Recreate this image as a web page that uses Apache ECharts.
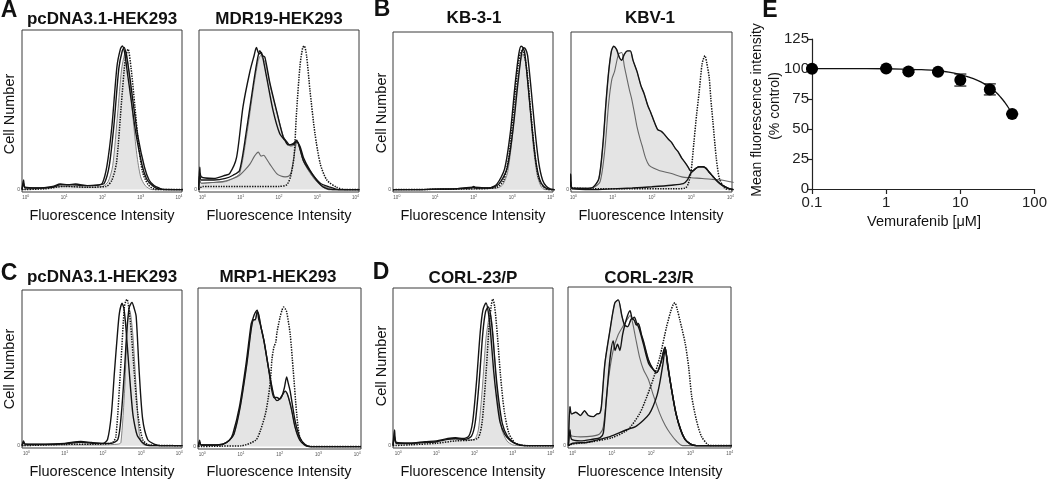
<!DOCTYPE html>
<html><head><meta charset="utf-8">
<script src="https://cdn.jsdelivr.net/npm/echarts@6/dist/echarts.min.js"></script>
<style>html,body{margin:0;padding:0;background:#fff}#c{width:1050px;height:480px}</style>
</head><body><div id="c"></div>
<script>
// ---------- histogram data: [log10 intensity, cell count (% of max)] ----------
const decadeTicks = [0, 1, 2, 3, 4];
// A: pcDNA3.1-HEK293
const a1Black1 = [[-0.1,0],[-0.06,6],[-0.02,1.5],[0.3,1],[0.7,2],[0.9,3.5],[1.1,3],[1.3,3.5],[1.6,2.5],[1.9,3],[2.0,4],[2.12,15],[2.25,40],[2.38,77],[2.47,88],[2.52,90],[2.58,86],[2.66,72],[2.73,60],[2.87,36],[3.04,15],[3.15,7],[3.26,3.5],[3.4,1],[3.52,0.3],[4.1,0]];
const a1Black2 = [[-0.1,0],[-0.06,4],[-0.02,1],[0.3,1],[0.7,1.5],[0.9,3],[1.2,3],[1.6,2.5],[1.9,2.8],[2.05,4],[2.18,15],[2.3,40],[2.43,76],[2.52,87],[2.57,89],[2.63,84],[2.72,70],[2.8,55],[2.93,33],[3.1,14],[3.22,6],[3.35,2.5],[3.5,0.8],[3.6,0],[4.1,0]];
const a1Fill = [[-0.1,0],[0.3,0.5],[1.0,2],[1.6,1.5],[2.0,2],[2.15,5],[2.27,15],[2.4,48],[2.5,75],[2.58,85],[2.62,86],[2.7,72],[2.8,45],[2.9,22],[3.0,8],[3.12,2.5],[3.3,0],[4.1,0]];
const a1Dot = [[-0.1,0],[0.5,0.5],[1.0,2],[1.6,1.5],[2.1,2],[2.25,6],[2.37,17],[2.5,55],[2.6,82],[2.67,88],[2.75,76],[2.85,52],[2.95,27],[3.05,11],[3.2,3],[3.4,0],[4.1,0]];
// A: MDR19-HEK293
const a2BlackL = [[-0.1,0],[-0.07,14],[-0.03,8],[0.3,7],[0.6,9],[0.71,10],[0.89,20],[1.06,52],[1.24,74],[1.35,84],[1.41,89],[1.48,85],[1.54,86],[1.6,80],[1.68,70],[1.85,49],[2.02,35],[2.15,31],[2.24,28],[2.35,28],[2.46,30],[2.55,27],[2.64,20],[2.81,12],[2.99,5.6],[3.16,1.5],[3.4,0],[4.1,0]];
const a2BlackR = [[-0.1,0],[-0.07,10],[-0.03,6],[0.3,6],[0.6,7],[0.8,9],[0.97,12],[1.15,37],[1.33,66],[1.44,82],[1.5,87],[1.56,84],[1.63,83],[1.76,67],[1.94,49],[2.11,33],[2.2,30],[2.28,28],[2.38,29],[2.46,31],[2.53,27],[2.64,18],[2.86,10],[3.08,4],[3.34,1.5],[3.55,0],[4.1,0]];
const a2Fill = [[-0.1,0],[-0.07,6],[-0.03,4],[0.3,4.5],[0.6,5],[0.8,7],[0.97,10],[1.15,33],[1.33,63],[1.45,80],[1.52,84],[1.58,82],[1.65,79],[1.78,64],[1.96,47],[2.12,33],[2.22,29],[2.3,27],[2.4,28],[2.47,30],[2.54,26],[2.65,17],[2.85,9],[3.05,3.5],[3.3,1],[3.5,0],[4.1,0]];
const a2Gray = [[-0.1,0],[-0.07,6],[-0.03,4],[0.3,4.5],[0.53,5],[0.8,7],[0.97,9],[1.1,12],[1.24,16],[1.36,21],[1.46,23.5],[1.53,21],[1.6,21.5],[1.68,19],[1.76,16],[1.94,10],[2.05,8.5],[2.16,8],[2.26,8.5],[2.32,11],[2.38,19],[2.44,28],[2.48,30],[2.54,26],[2.64,18],[2.86,9],[3.08,3],[3.3,0],[4.1,0]];
const a2Dot = [[-0.1,0],[0,2],[0.5,2],[1.0,2],[1.5,2],[2.0,2],[2.2,3],[2.3,8],[2.39,20],[2.46,49],[2.55,78],[2.62,89],[2.66,90],[2.72,84],[2.81,62],[2.94,35],[3.08,16],[3.25,6],[3.5,1.5],[3.75,0],[4.1,0]];
// B: KB-3-1
const b1Black1 = [[-0.1,0],[0.5,0],[1.0,0.3],[1.5,0.5],[1.95,1.2],[2.0,2],[2.05,1],[2.4,1],[2.6,3.5],[2.8,13],[2.95,36],[3.08,68],[3.17,86],[3.23,91],[3.28,90],[3.33,86],[3.42,64],[3.52,38],[3.62,17],[3.72,6],[3.82,2],[3.95,0.3],[4.1,0]];
const b1Black2 = [[-0.1,0],[0.5,0],[1.0,0.3],[1.5,0.5],[2.0,1.5],[2.4,1],[2.65,3.5],[2.86,13],[3.01,36],[3.15,68],[3.24,86],[3.3,90],[3.35,89],[3.4,85],[3.49,64],[3.59,38],[3.69,17],[3.79,6],[3.89,2],[4.0,0.3],[4.1,0]];
const b1Fill = [[-0.1,0],[2.0,0.5],[2.6,1],[2.75,3],[2.88,11],[3.0,33],[3.12,64],[3.22,82],[3.28,86],[3.35,80],[3.45,55],[3.55,27],[3.65,9],[3.75,2],[3.85,0],[4.1,0]];
const b1Dot = [[-0.1,0],[2.0,0.5],[2.6,1.5],[2.78,6],[2.92,22],[3.05,55],[3.16,80],[3.24,88],[3.3,87],[3.38,76],[3.48,50],[3.58,24],[3.68,8],[3.8,2],[3.95,0],[4.1,0]];
// B: KBV-1
const b2BlackSlow = [[-0.1,0],[-0.07,10],[-0.03,1],[0.3,0.8],[0.5,1.5],[0.65,7],[0.75,28],[0.83,55],[0.9,75],[0.97,88],[1.03,91],[1.1,89],[1.17,84],[1.23,82],[1.3,86],[1.38,88],[1.45,88],[1.52,82],[1.62,75],[1.72,66],[1.8,61],[1.9,53],[1.97,49],[2.06,43],[2.15,38],[2.24,37],[2.32,35],[2.42,32],[2.5,30],[2.6,26],[2.67,24],[2.76,20],[2.85,17],[2.93,14],[2.98,12],[3.05,12],[3.12,13.5],[3.2,14.5],[3.3,14.5],[3.38,13.5],[3.46,11],[3.55,8.5],[3.64,6],[3.75,3.5],[3.85,2],[3.95,0.8],[4.08,0]];
const b2Gray = [[-0.1,0],[-0.07,6],[-0.03,1],[0.3,0.8],[0.5,1.2],[0.68,5],[0.8,25],[0.9,55],[0.98,70],[1.05,75],[1.15,86],[1.23,87],[1.3,78],[1.36,71],[1.43,63],[1.49,57],[1.56,48],[1.62,40],[1.7,32],[1.75,28],[1.84,20],[1.93,15.4],[2.05,13.5],[2.2,12],[2.5,10.2],[2.76,8.1],[3.0,7.5],[3.28,7.1],[3.55,6.5],[3.81,6],[4.0,5],[4.08,4.5]];
const b2BlackLow = [[-0.1,0],[-0.07,5],[-0.03,0.5],[0.5,0],[1.0,0.5],[1.5,1],[2.0,1.8],[2.5,2.8],[2.8,3.8],[2.9,6],[2.98,10],[3.05,12],[3.12,13.5],[3.2,14.5],[3.3,14.5],[3.38,13.5],[3.46,11],[3.55,8.5],[3.64,6],[3.75,3.5],[3.85,2],[3.95,0.8],[4.08,0]];
const b2Dot = [[-0.1,0],[0,1],[0.5,0.5],[1.5,0.5],[2.5,0.5],[2.85,1],[2.93,4],[3.0,12],[3.07,30],[3.14,48],[3.2,61],[3.28,80],[3.35,85],[3.4,80],[3.46,71],[3.5,58],[3.55,44],[3.64,20],[3.72,7],[3.85,1],[4.0,0],[4.08,0]];
// C: pcDNA3.1-HEK293
const c1BlackL = [[-0.12,0],[-0.08,3],[-0.04,1],[0.5,1],[1.0,1.5],[1.42,2.7],[1.7,2],[2.0,1.5],[2.12,4],[2.22,20],[2.3,47],[2.38,72],[2.43,85],[2.5,91.5],[2.55,88],[2.6,76],[2.69,47],[2.78,21],[2.85,11],[2.91,6],[3.09,1],[3.3,0],[4.08,0]];
const c1BlackR = [[-0.12,0],[-0.08,2],[-0.04,1],[0.5,0.8],[1.0,1.2],[1.42,2.2],[1.8,1.5],[2.2,1.5],[2.39,4],[2.48,20],[2.56,47],[2.63,75],[2.69,89],[2.76,92],[2.82,88],[2.87,83],[2.95,47],[3.04,17],[3.17,4],[3.34,1],[3.5,0],[4.08,0]];
const c1Fill = [[-0.12,0],[1.0,0.5],[2.0,0.5],[2.4,1],[2.47,2],[2.57,37],[2.64,79],[2.7,87],[2.78,72],[2.87,37],[2.95,8],[3.04,1],[3.2,0],[4.08,0]];
const c1Dot = [[-0.12,0],[1.0,0.8],[2.0,1],[2.25,2],[2.34,6],[2.47,53],[2.56,89],[2.6,93],[2.63,94],[2.72,79],[2.82,47],[2.91,21],[3.04,4],[3.2,0.5],[4.08,0]];
// C: MRP1-HEK293
const c2BlackA = [[-0.1,0],[-0.07,4],[-0.03,1],[0.3,1],[0.53,1.5],[0.7,4],[0.79,8],[0.96,25],[1.13,52],[1.26,77],[1.3,80],[1.34,83],[1.38,85],[1.42,86],[1.46,80],[1.5,77],[1.59,67],[1.72,48],[1.85,31],[1.93,31],[2.0,30],[2.06,32],[2.12,37],[2.18,44],[2.22,40],[2.27,35],[2.4,16],[2.52,5.7],[2.65,1.5],[2.8,0],[4.1,0]];
const c2BlackB = [[-0.1,0],[-0.07,3],[-0.03,1],[0.3,1],[0.53,1.5],[0.7,4],[0.82,8],[0.98,25],[1.15,52],[1.27,75],[1.33,80],[1.37,80],[1.42,85],[1.46,83],[1.52,75],[1.6,66],[1.73,47],[1.85,32],[1.93,29],[2.0,30],[2.08,33],[2.14,35],[2.2,33],[2.3,24],[2.4,12],[2.52,4],[2.65,1],[2.8,0],[4.1,0]];
const c2Dot = [[-0.1,0],[0.5,0.3],[1.0,0.5],[1.38,4],[1.5,10],[1.63,20.5],[1.7,30],[1.76,41.6],[1.8,55],[1.85,62.7],[1.9,66],[1.93,72],[2.01,81.7],[2.06,86],[2.1,88],[2.14,87],[2.18,85],[2.27,71],[2.35,48],[2.44,20.5],[2.52,5.7],[2.65,1],[2.8,0],[4.1,0]];
// D: CORL-23/P
const d1BlackL = [[-0.14,0],[-0.1,10],[-0.05,2],[0.3,1.5],[0.7,2.5],[1.0,3],[1.3,4.5],[1.5,5],[1.7,4.5],[1.85,6],[1.95,15],[2.05,40],[2.15,72],[2.22,86],[2.3,90.5],[2.36,85],[2.42,72],[2.5,48],[2.58,30],[2.67,15],[2.8,7],[2.95,3],[3.1,1],[3.3,0],[4.08,0]];
const d1BlackR = [[-0.14,0],[-0.1,6],[-0.05,1.5],[0.3,1.5],[0.7,2],[1.0,2.5],[1.3,4],[1.5,4.5],[1.75,4],[1.92,6],[2.02,15],[2.12,40],[2.22,72],[2.29,85],[2.36,88],[2.42,83],[2.48,70],[2.56,46],[2.64,28],[2.73,14],[2.86,6],[3.0,2.5],[3.15,0.8],[3.35,0],[4.08,0]];
const d1Fill = [[-0.14,0],[-0.1,4],[-0.05,1],[0.3,1],[0.7,2],[1.0,2.5],[1.3,4],[1.5,4],[1.8,3.5],[2.0,4],[2.1,10],[2.2,35],[2.3,68],[2.37,80],[2.41,84],[2.47,75],[2.55,48],[2.63,25],[2.72,10],[2.85,3],[3.0,0.5],[3.2,0],[4.08,0]];
const d1Dot = [[-0.14,0],[0.3,0.5],[1.0,1.5],[1.5,3],[1.9,3.5],[2.1,5],[2.2,15],[2.3,45],[2.38,75],[2.44,89],[2.48,93],[2.53,88],[2.6,70],[2.68,45],[2.78,22],[2.9,8],[3.05,2],[3.2,0.5],[3.4,0],[4.08,0]];
// D: CORL-23/R
const d2BlackA = [[-0.11,0],[-0.07,24.6],[-0.03,20],[0.08,21],[0.2,19],[0.3,22],[0.4,19],[0.53,18.3],[0.62,20],[0.69,20.4],[0.73,24.6],[0.82,52],[0.95,73],[1.07,89.8],[1.16,91.9],[1.25,82],[1.32,76],[1.4,75],[1.5,80],[1.57,79],[1.62,76],[1.67,77],[1.75,70],[1.8,66],[1.93,54],[2.05,48],[2.14,46],[2.24,52],[2.35,62],[2.42,50],[2.52,35],[2.63,20],[2.75,10],[2.86,4],[3.0,1],[3.15,0],[4.05,0]];
const d2BlackB = [[-0.11,0],[-0.07,10],[-0.03,4],[0.2,3],[0.5,4],[0.7,5],[0.78,8],[0.86,30],[0.95,55],[1.03,66],[1.08,60],[1.14,64],[1.2,60],[1.27,70],[1.37,80],[1.46,85],[1.52,80],[1.57,81],[1.62,78],[1.7,73],[1.8,64],[1.93,52],[2.05,48],[2.14,46],[2.24,52],[2.35,62],[2.42,50],[2.52,35],[2.63,20],[2.75,10],[2.86,4],[3.0,1],[3.15,0],[4.05,0]];
const d2Gray = [[-0.11,0],[-0.07,8],[-0.03,6],[0.2,5.5],[0.5,6],[0.69,7.5],[0.78,12],[0.9,40],[1.03,60],[1.16,70],[1.3,76],[1.4,80],[1.46,82],[1.52,78],[1.6,68],[1.7,56],[1.8,48],[1.93,41.5],[2.05,32],[2.22,20],[2.35,13],[2.48,7.8],[2.65,2.6],[2.8,0],[4.05,0]];
const d2Low = [[-0.11,0],[0,1.5],[0.36,2],[0.53,3],[0.95,5.7],[1.37,10],[1.6,12],[1.8,16],[1.95,20],[2.05,25],[2.15,32],[2.22,40],[2.3,52],[2.35,60],[2.4,55],[2.48,41],[2.6,24],[2.73,11],[2.86,4],[3.0,1],[3.15,0],[4.05,0]];
const d2Dot = [[-0.11,0],[0,1],[0.5,2.5],[1.0,5],[1.4,10],[1.7,20],[1.89,31],[2.05,42],[2.22,56],[2.39,75],[2.5,85],[2.56,89],[2.6,90],[2.66,86],[2.73,79],[2.86,65],[2.95,50],[3.03,31],[3.15,16],[3.28,5.7],[3.45,0.5],[3.6,0],[4.05,0]];

// ---------- panel E data ----------
const vemuConc = [0.1, 1, 2, 5, 10, 25, 50];
const vemuMFI = [100.3, 100.5, 98, 97.8, 90.8, 83, 62.5];
const vemuErr = [0.5, 0.5, 0.8, 0.8, 5, 4.6, 0.5];
const fitConc = [0.1, 0.3, 1, 2, 3, 5, 7, 10, 15, 20, 25, 30, 35, 40, 45, 50];
const fitMFI = [100.3, 100.3, 100.2, 99.8, 99.4, 98.5, 97.4, 95.3, 92, 88.5, 84.8, 80.8, 76.5, 72, 67.3, 62.5];
const eYTicks = [0, 25, 50, 75, 100, 125];

// ---------- layout ----------
const FONT = 'Liberation Sans, Arial, sans-serif';
const panels = [
  { box: [22, 30, 160, 162], xr: [-0.1, 4.08], curves: [['fill', a1Fill], ['black', a1Black1], ['black', a1Black2], ['dot', a1Dot]] },
  { box: [199, 30, 160, 162], xr: [-0.09, 4.09], curves: [['fill', a2Fill], ['gray', a2Gray], ['black', a2BlackL], ['black', a2BlackR], ['dot', a2Dot]] },
  { box: [393, 32, 160, 160], xr: [-0.1, 4.06], curves: [['fill', b1Fill], ['black', b1Black1], ['black', b1Black2], ['dot', b1Dot]] },
  { box: [571, 32, 161, 160], xr: [-0.06, 4.04], curves: [['fill', b2BlackSlow], ['gray', b2Gray], ['black', b2BlackLow], ['black', b2BlackSlow], ['dot', b2Dot]] },
  { box: [22, 290, 160, 158], xr: [-0.12, 4.07], curves: [['fill', c1Fill], ['black', c1BlackL], ['black', c1BlackR], ['dot', c1Dot]] },
  { box: [198, 288, 163, 161], xr: [-0.11, 4.1], curves: [['fill', c2BlackB], ['black', c2BlackA], ['black', c2BlackB], ['dot', c2Dot]] },
  { box: [393, 288, 160, 160], xr: [-0.14, 4.06], curves: [['fill', d1Fill], ['black', d1BlackL], ['black', d1BlackR], ['dot', d1Dot]] },
  { box: [568, 287, 163, 161], xr: [-0.12, 4.03], curves: [['fill', d2BlackA], ['gray', d2Gray], ['black', d2Low], ['black', d2BlackB], ['black', d2BlackA], ['dot', d2Dot]] }
];

const styles = {
  fill: { lineStyle: { color: '#858585', width: 1 }, areaStyle: { color: '#e4e4e4', opacity: 1 } },
  gray: { lineStyle: { color: '#666', width: 1.1 } },
  black: { lineStyle: { color: '#141414', width: 1.4 } },
  dot: { lineStyle: { color: '#111', width: 1.5, type: [1.4, 1.2] } }
};

const grid = [], xAxis = [], yAxis = [], series = [];
panels.forEach((p, i) => {
  grid.push({ left: p.box[0], top: p.box[1], width: p.box[2], height: p.box[3], show: true, borderColor: '#3a3a3a', borderWidth: 1, backgroundColor: 'transparent' });
  xAxis.push({
    type: 'value', gridIndex: i, min: p.xr[0], max: p.xr[1],
    axisLine: { show: false }, axisTick: { show: false }, splitLine: { show: false },
    axisLabel: {
      customValues: decadeTicks, margin: 2, color: '#555',
      formatter: v => '{b|10}{s|' + v + '}',
      rich: { b: { fontSize: 4.5, fontFamily: FONT, color: '#555' }, s: { fontSize: 3.5, fontFamily: FONT, color: '#555', verticalAlign: 'top', padding: [0, 0, 3, 0] } }
    }
  });
  yAxis.push({
    type: 'value', gridIndex: i, min: -1.5, max: 100,
    axisLine: { show: false }, axisTick: { show: false }, splitLine: { show: false },
    axisLabel: { customValues: [0], margin: 2, fontSize: 5, color: '#555', fontFamily: FONT }
  });
  p.curves.forEach(([kind, data]) => {
    series.push(Object.assign({
      type: 'line', xAxisIndex: i, yAxisIndex: i, data: data, showSymbol: false, smooth: 0.25,
      silent: true, animation: false, z: kind === 'fill' ? 1 : (kind === 'dot' ? 4 : 3)
    }, JSON.parse(JSON.stringify(styles[kind]))));
  });
});

// Panel E
const ei = panels.length;
grid.push({ left: 812, top: 39, width: 224, height: 150, show: false });
xAxis.push({
  type: 'log', logBase: 10, gridIndex: ei, min: 0.1, max: 100,
  axisLine: { show: true, lineStyle: { color: '#222', width: 1.2 } },
  axisTick: { show: true, length: 5, lineStyle: { color: '#222', width: 1.2 } },
  minorTick: { show: false }, splitLine: { show: false },
  axisLabel: { fontSize: 15, color: '#222', fontFamily: FONT, margin: 6, formatter: v => String(+(+v).toPrecision(3)) }
});
yAxis.push({
  type: 'value', gridIndex: ei, min: 0, max: 125, interval: 25,
  axisLine: { show: true, lineStyle: { color: '#222', width: 1.2 } },
  axisTick: { show: true, length: 5, lineStyle: { color: '#222', width: 1.2 } },
  splitLine: { show: false },
  axisLabel: { fontSize: 15, color: '#222', fontFamily: FONT, margin: 3, customValues: eYTicks }
});
series.push({
  type: 'line', xAxisIndex: ei, yAxisIndex: ei, showSymbol: false, smooth: true, silent: true, animation: false,
  data: fitConc.map((x, i) => [x, fitMFI[i]]), lineStyle: { color: '#111', width: 1.3 }, z: 2
});
series.push({
  type: 'custom', xAxisIndex: ei, yAxisIndex: ei, silent: true, animation: false, z: 3,
  data: vemuConc.map((x, i) => [x, vemuMFI[i] - vemuErr[i], vemuMFI[i] + vemuErr[i]]),
  encode: { x: 0, y: [1, 2] },
  renderItem: (params, api) => {
    const x = api.value(0);
    const lo = api.coord([x, api.value(1)]);
    const hi = api.coord([x, api.value(2)]);
    const w = 6;
    const st = { stroke: '#111', lineWidth: 1.2 };
    return { type: 'group', children: [
      { type: 'line', shape: { x1: lo[0], y1: lo[1], x2: hi[0], y2: hi[1] }, style: st },
      { type: 'line', shape: { x1: lo[0] - w, y1: lo[1], x2: lo[0] + w, y2: lo[1] }, style: st },
      { type: 'line', shape: { x1: hi[0] - w, y1: hi[1], x2: hi[0] + w, y2: hi[1] }, style: st }
    ] };
  }
});
series.push({
  type: 'scatter', xAxisIndex: ei, yAxisIndex: ei, silent: true, animation: false, z: 5,
  data: vemuConc.map((x, i) => [x, vemuMFI[i]]), symbol: 'circle', symbolSize: 12,
  itemStyle: { color: '#000', opacity: 1 }
});

// ---------- texts ----------
const txt = (x, y, text, size, opts = {}) => Object.assign({
  type: 'text', x: x, y: y, silent: true,
  style: Object.assign({ text: text, fontSize: size, fontFamily: FONT, fill: '#111', align: 'center', verticalAlign: 'middle' }, opts.style || {})
}, opts.el || {});
const bold = { style: { fontWeight: 'bold' } };
const graphic = [
  txt(9, 11, 'A', 23, bold), txt(382, 10, 'B', 23, bold), txt(9, 274, 'C', 23, bold), txt(381, 273, 'D', 23, bold), txt(770, 11, 'E', 23, bold),
  txt(102, 19, 'pcDNA3.1-HEK293', 17, bold), txt(279, 19, 'MDR19-HEK293', 17, bold),
  txt(474, 18, 'KB-3-1', 17, bold), txt(650, 18, 'KBV-1', 17, bold),
  txt(102, 277, 'pcDNA3.1-HEK293', 17, bold), txt(278, 277, 'MRP1-HEK293', 17, bold),
  txt(473, 278, 'CORL-23/P', 17, bold), txt(649, 278, 'CORL-23/R', 17, bold),
  txt(102, 216, 'Fluorescence Intensity', 14.5), txt(279, 216, 'Fluorescence Intensity', 14.5),
  txt(473, 216, 'Fluorescence Intensity', 14.5), txt(651, 216, 'Fluorescence Intensity', 14.5),
  txt(102, 472, 'Fluorescence Intensity', 14.5), txt(279, 472, 'Fluorescence Intensity', 14.5),
  txt(473, 472, 'Fluorescence Intensity', 14.5), txt(650, 472, 'Fluorescence Intensity', 14.5),
  txt(10, 114, 'Cell Number', 14.5, { el: { rotation: Math.PI / 2 } }),
  txt(382, 113, 'Cell Number', 14.5, { el: { rotation: Math.PI / 2 } }),
  txt(10, 369, 'Cell Number', 14.5, { el: { rotation: Math.PI / 2 } }),
  txt(382, 366, 'Cell Number', 14.5, { el: { rotation: Math.PI / 2 } }),
  txt(757, 110, 'Mean fluorescence intensity', 14, { el: { rotation: Math.PI / 2 } }),
  txt(775, 106, '(% control)', 14, { el: { rotation: Math.PI / 2 } }),
  txt(924, 222, 'Vemurafenib [\u03bcM]', 14.5)
];

const chart = echarts.init(document.getElementById('c'), null, { renderer: 'canvas' });
chart.setOption({ backgroundColor: '#fff', animation: false, grid, xAxis, yAxis, series, graphic });
</script></body></html>
